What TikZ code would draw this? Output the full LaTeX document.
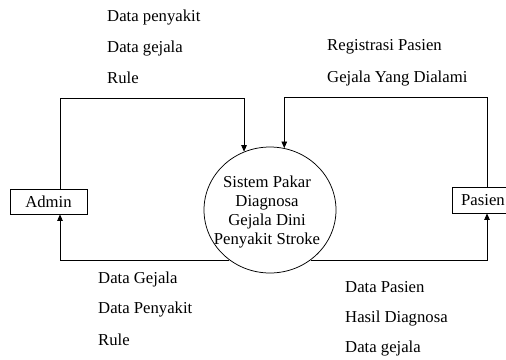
\documentclass[tikz,border=0pt]{standalone}
\usepackage{fontspec}
\setmainfont{Liberation Serif}
\usetikzlibrary{arrows.meta,shapes.geometric}
\begin{document}
\begin{tikzpicture}[x=1pt,y=-1pt,
  every node/.style={font=\fontsize{16.7}{19}\selectfont},
  entity/.style={draw=black,line width=0.75pt,inner sep=0pt,minimum height=25pt},
  process/.style={draw=black,line width=0.75pt,ellipse,inner sep=0pt,
    minimum width=132pt,minimum height=126pt},
  flowtext/.style={anchor=base west,inner sep=0pt},
  flow/.style={draw=black,line width=0.75pt,-{Triangle[length=6.5pt,width=5.5pt]}}]
  \useasboundingbox (0,0) rectangle (506,359);

  % process and external entities
  \node[process] (sys) at (270,210) {};
  \node[align=center,inner sep=0pt] (systext) at (267,212.5)
    {Sistem Pakar\\Diagnosa\\Gejala Dini\\Penyakit Stroke};
  \node[entity,minimum width=77pt] (admin) at (48.5,201.5) {Admin};
  \node[entity,minimum width=62pt,minimum height=26pt] (pasien) at (483,200) {Pasien};

  % data flows
  \draw[flow] ([xshift=11.5pt]admin.north) |- (sys.114 |- 0,98) -- (sys.114);
  \draw[flow] ([xshift=4pt]pasien.north) |- (sys.77 |- 0,97) -- (sys.77);
  \draw[flow] (sys.231) -| ([xshift=11.5pt]admin.south);
  \draw[flow] (sys.309) -| ([xshift=4pt]pasien.south);

  % flow labels
  \node[flowtext] (l1) at (107,21) {Data penyakit};
  \node[flowtext] (l2) at (107,52) {Data gejala};
  \node[flowtext] (l3) at (107,83) {Rule};
  \node[flowtext] (l4) at (327,50) {Registrasi Pasien};
  \node[flowtext] (l5) at (327,82) {Gejala Yang Dialami};
  \node[flowtext] (l6) at (98,283) {Data Gejala};
  \node[flowtext] (l7) at (98,313) {Data Penyakit};
  \node[flowtext] (l8) at (98,345) {Rule};
  \node[flowtext] (l9) at (345,292) {Data Pasien};
  \node[flowtext] (l10) at (345,322) {Hasil Diagnosa};
  \node[flowtext] (l11) at (345,352) {Data gejala};
\end{tikzpicture}
\end{document}
